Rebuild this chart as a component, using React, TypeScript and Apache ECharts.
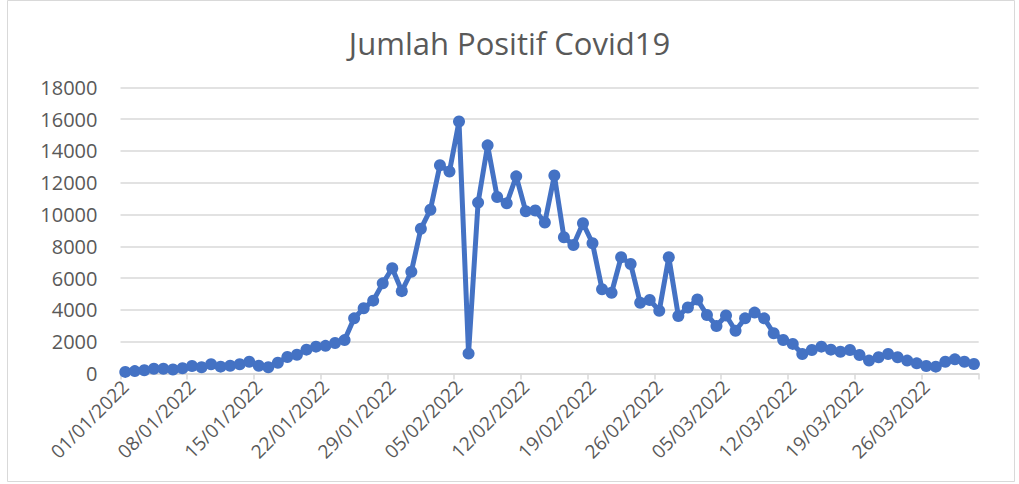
import React, { useEffect, useRef } from "react";
import * as echarts from "echarts";

const titleText = "Jumlah Positif Covid19";

// Daily dates 01/01/2022 .. 31/03/2022
const monthDays = [31, 28, 31];
const dates: string[] = [];
monthDays.forEach((n, m) => {
  for (let d = 1; d <= n; d++) {
    dates.push(`${String(d).padStart(2, "0")}/${String(m + 1).padStart(2, "0")}/2022`);
  }
});

const janValues = [
  100, 150, 200, 300, 300, 250, 330, 470, 390, 580, 430, 490, 580, 740, 490, 390,
  680, 1040, 1180, 1500, 1690, 1740, 1920, 2100, 3470, 4100, 4580, 5670, 6620, 5180, 6400,
];
const febValues = [
  9100, 10300, 13100, 12700, 15850, 1250, 10750, 14350, 11100, 10700, 12400, 10200,
  10250, 9500, 12450, 8570, 8080, 9450, 8190, 5300, 5080, 7310, 6890, 4450, 4620, 3950,
  7310, 3620,
];
const marValues = [
  4150, 4650, 3680, 2990, 3650, 2690, 3470, 3830, 3470, 2530, 2110, 1860, 1230, 1480,
  1690, 1500, 1370, 1480, 1160, 810, 1020, 1230, 1020, 810, 640, 470, 430, 740, 890,
  740, 600,
];
const positif = [...janValues, ...febValues, ...marValues];

const yMin = 0;
const yMax = 18000;
const yStep = 2000;

export default function App() {
  const ref = useRef<HTMLDivElement>(null);
  useEffect(() => {
    if (!ref.current) return;
    const chart = echarts.init(ref.current, undefined, { renderer: "svg" });
    const textColor = "#595959";
    const font = "'Open Sans', 'Liberation Sans', sans-serif";
    chart.setOption({
      animation: false,
      backgroundColor: "#ffffff",
      title: {
        text: titleText,
        left: "center",
        top: 22,
        textStyle: { color: textColor, fontSize: 31, fontWeight: "normal", fontFamily: font },
      },
      graphic: [
        {
          type: "rect",
          shape: { x: 7.5, y: 0.5, width: 1007, height: 481 },
          style: { fill: "none", stroke: "#d9d9d9", lineWidth: 1 },
          silent: true,
        },
      ],
      grid: { left: 120.5, right: 40.3, top: 87.3, bottom: 110.5 },
      xAxis: {
        type: "category",
        data: dates,
        boundaryGap: true,
        axisLine: { lineStyle: { color: "#d9d9d9", width: 1.5 } },
        axisTick: { show: true, interval: 6, length: 6, lineStyle: { color: "#d9d9d9", width: 1.5 } },
        axisLabel: {
          interval: 6,
          rotate: 45,
          color: textColor,
          fontSize: 19,
          fontFamily: font,
          margin: 10,
        },
        splitLine: { show: false },
      },
      yAxis: {
        type: "value",
        min: yMin,
        max: yMax,
        interval: yStep,
        axisLine: { show: false },
        axisTick: { show: false },
        axisLabel: {
          color: textColor,
          fontSize: 20,
          fontFamily: font,
          margin: 23,
          formatter: (v: number) => String(v),
        },
        splitLine: { lineStyle: { color: "#d9d9d9", width: 1.5 } },
      },
      series: [
        {
          name: "Positif",
          type: "line",
          data: positif,
          symbol: "circle",
          symbolSize: 12,
          showAllSymbol: true,
          itemStyle: { color: "#4472C4" },
          lineStyle: { color: "#4472C4", width: 5 },
        },
      ],
    });
    return () => chart.dispose();
  }, []);
  return (
    <div
      ref={ref}
      style={{ position: "fixed", left: 0, top: 0, width: 1019, height: 484 }}
    />
  );
}
